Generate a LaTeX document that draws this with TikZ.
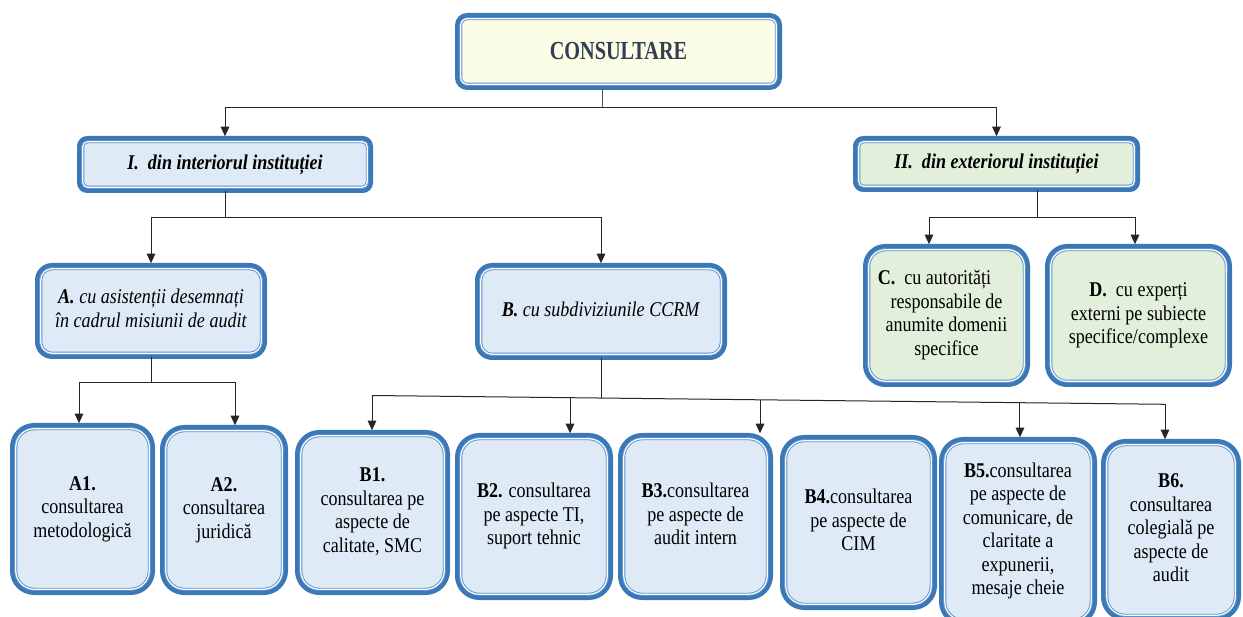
\documentclass[tikz,border=0pt]{standalone}
\usepackage{fontspec}
\setmainfont{Liberation Serif}
\usetikzlibrary{arrows.meta,calc}

\definecolor{bandblue}{HTML}{3B78B8}
\definecolor{rimblue}{HTML}{5B8FCA}
\definecolor{paleblue}{HTML}{DEEAF6}
\definecolor{palegreen}{HTML}{E2EFDA}
\definecolor{paleyellow}{HTML}{FBFDE6}
\definecolor{titletext}{HTML}{333F50}
\definecolor{stubgray}{HTML}{44546A}

% narrow the box texts a little, line by line centred
\newcommand\boxtext[1]{\scalebox{0.86}[1]{\begin{tabular}{@{}c@{}}#1\end{tabular}}}

\tikzset{
  cbox/.style={draw=bandblue, line width=4.5pt, rounded corners=#1, inner sep=0pt, outer sep=0pt,
    align=center, text=black, font=\fontsize{21}{23.5}\selectfont},
  bluebox/.style={cbox=#1, fill=paleblue},
  greenbox/.style={cbox=#1, fill=palegreen},
  rim/.style={draw=rimblue, line width=0.9pt, double=white, double distance=1.2pt},
  wire/.style={draw=black!85, line width=1pt},
  arr/.style={wire, -{Triangle[width=8.5pt,length=9.5pt]}, shorten >=2pt},
}

\begin{document}
\begin{tikzpicture}[x=1pt,y=-1pt]
\clip (0,0) rectangle (1243,617);
\fill[white] (0,0) rectangle (1243,617);

% title
\node[cbox=10pt, fill=paleyellow, minimum width=322.5pt, minimum height=72.5pt] (top) at (618.5,51.5)
  {\textcolor{titletext}{\scalebox{0.78}[1]{\fontsize{26}{30}\selectfont\bfseries CONSULTARE}}};

% first level
\node[bluebox=8pt, minimum width=291.5pt, minimum height=52.5pt] (I) at (225,164.5)
  {\boxtext{\textbf{\textit{I.\ \ din interiorul instituției}}}};
\node[greenbox=8pt, minimum width=282.5pt, minimum height=51.5pt] (II) at (996.5,164)
  {\boxtext{\textbf{\textit{II.\ \ din exteriorul instituției}}}};

% second level
\node[bluebox=15pt, minimum width=227.5pt, minimum height=91.5pt] (A) at (151,311)
  {\boxtext{\textbf{\textit{A.}} \textit{cu asistenții desemnați}\\\textit{în cadrul misiunii de audit}}};
\node[bluebox=15pt, minimum width=247.5pt, minimum height=92.5pt] (B) at (601,311.5)
  {\boxtext{\textbf{\textit{B.}} \textit{cu subdiviziunile CCRM}}};
\node[greenbox=20pt, minimum width=162.5pt, minimum height=138.5pt] (C) at (946.5,315.5)
  {\boxtext{\textbf{C.}\ \ cu autorități\hspace*{28pt}\\responsabile de\\anumite domenii\\specifice}};
\node[greenbox=20pt, minimum width=182.5pt, minimum height=138.5pt] (D) at (1138.5,315.5)
  {\boxtext{\textbf{D.}\ \ cu experți\\externi pe subiecte\\specifice/complexe}};

% third level
\node[bluebox=22pt, minimum width=140.5pt, minimum height=167.5pt] (A1) at (82.5,509)
  {\boxtext{\textbf{A1.}\\consultarea\\metodologică}};
\node[bluebox=22pt, minimum width=123.5pt, minimum height=165.5pt] (A2) at (224,510)
  {\boxtext{\textbf{A2.}\\consultarea\\juridică}};
\node[bluebox=22pt, minimum width=150.5pt, minimum height=160.5pt] (B1) at (372.5,512.5)
  {\boxtext{\textbf{B1.}\\consultarea pe\\aspecte de\\calitate, SMC}};
\node[bluebox=22pt, minimum width=153.5pt, minimum height=162.5pt] (B2) at (534,516.5)
  {\boxtext{\textbf{B2.} consultarea\\pe aspecte TI,\\suport tehnic}};
\node[bluebox=22pt, minimum width=150.5pt, minimum height=162.5pt] (B3) at (695.5,516.5)
  {\boxtext{\textbf{B3.}consultarea\\pe aspecte de\\audit intern}};
\node[bluebox=22pt, minimum width=152.5pt, minimum height=170.5pt] (B4) at (858.5,522.5)
  {\boxtext{\textbf{B4.}consultarea\\pe aspecte de\\CIM}};
\node[bluebox=22pt, minimum width=153.5pt, minimum height=184.5pt] (B5) at (1018,531.5)
  {\boxtext{\textbf{B5.}consultarea\\pe aspecte de\\comunicare, de\\claritate a\\expunerii,\\mesaje cheie}};
\node[bluebox=22pt, minimum width=135.5pt, minimum height=177.5pt] (B6) at (1171,530)
  {\boxtext{\textbf{B6.}\\consultarea\\colegială pe\\aspecte de\\audit}};

% thin inner rim of every box
\foreach \n/\r in {top/6.5, I/5, II/5, A/11.5, B/11.5, C/16.5, D/16.5, A1/18.5, A2/18.5,
                   B1/18.5, B2/18.5, B3/18.5, B4/18.5, B5/18.5, B6/18.5}
  \draw[rim, rounded corners=\r pt] ([shift={(3.5pt,-3.5pt)}]\n.north west)
    rectangle ([shift={(-3.5pt,3.5pt)}]\n.south east);

% connectors: title to first level
\coordinate (j0) at (602,108);
\draw[wire, draw=stubgray] (top.south -| j0) -- (j0);
\draw[arr] (j0) -| (I.north);
\draw[arr] (j0) -| (II.north);

% I to A and B
\coordinate (j1) at (225,218);
\draw[wire] (I.south) -- (j1);
\draw[arr] (j1) -| (A.north);
\draw[arr] (j1) -| (B.north);

% A to A1 and A2
\coordinate (j2) at (151,383);
\draw[wire] (A.south) -- (j2);
\draw[arr] (j2) -| ([xshift=-3.5pt]A1.north);
\draw[arr] (j2) -| ([xshift=11pt]A2.north);

% II to C and D
\coordinate (j3) at (1037,218);
\draw[wire] (II.south -| j3) -- (j3);
\draw[arr] (j3) -| ([xshift=-17.5pt]C.north);
\draw[arr] (j3) -| ([xshift=-3.5pt]D.north);

% B to its subdivisions along a slightly sloping bar
\coordinate (bl) at (372,395.5);
\coordinate (br) at (1165,404.3);
\coordinate (j4) at ($(bl)!0.2888!(br)$);
\coordinate (p2) at ($(bl)!0.2497!(br)$);
\coordinate (p3) at ($(bl)!0.4893!(br)$);
\coordinate (p5) at ($(bl)!0.8171!(br)$);
\draw[wire] (bl) -- (br);
\draw[wire] (B.south) -- (B.south |- j4);
\draw[arr] (bl) -- (bl |- B1.north);
\draw[arr] (p2) -- (p2 |- B2.north);
\draw[arr] (p3) -- (p3 |- B3.north);
\draw[arr] (p5) -- (p5 |- B5.north);
\draw[arr] (br) -- (br |- B6.north);
\end{tikzpicture}
\end{document}
